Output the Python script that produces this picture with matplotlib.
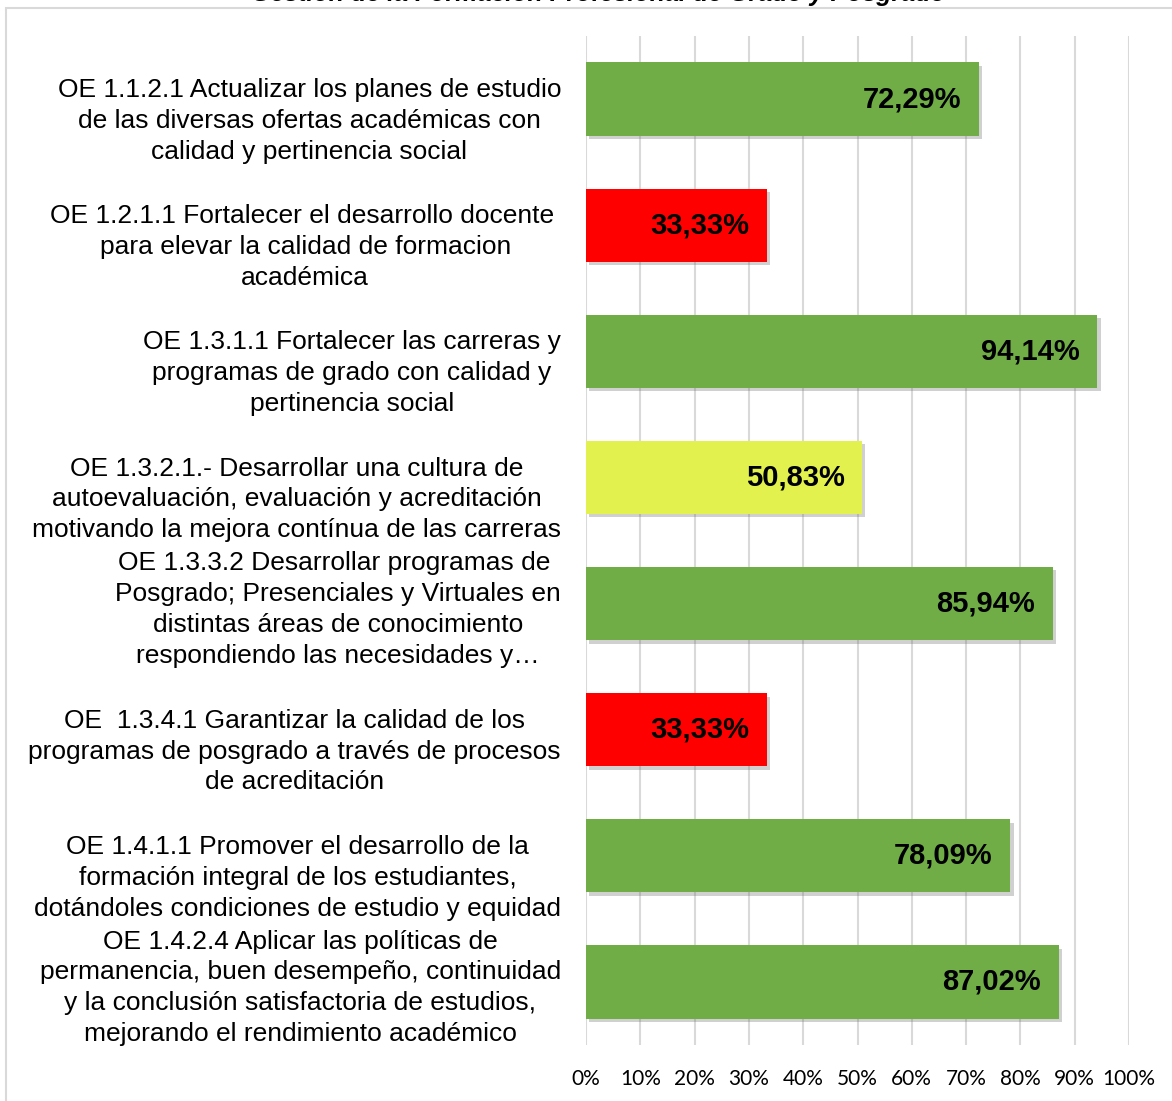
import matplotlib
matplotlib.use("Agg")
import matplotlib.pyplot as plt
import matplotlib.patheffects as pe
import matplotlib.transforms as mtransforms
from matplotlib.patches import Rectangle
from matplotlib.ticker import FuncFormatter

# Data (top to bottom)
labels = [
    "OE 1.1.2.1 Actualizar los planes de estudio\nde las diversas ofertas académicas con\ncalidad y pertinencia social",
    "OE 1.2.1.1 Fortalecer el desarrollo docente \npara elevar la calidad de formacion\nacadémica",
    "OE 1.3.1.1 Fortalecer las carreras y\nprogramas de grado con calidad y\npertinencia social",
    "OE 1.3.2.1.- Desarrollar una cultura de\nautoevaluación, evaluación y acreditación\nmotivando la mejora contínua de las carreras",
    "OE 1.3.3.2 Desarrollar programas de \nPosgrado; Presenciales y Virtuales en\ndistintas áreas de conocimiento\nrespondiendo las necesidades y…",
    "OE  1.3.4.1 Garantizar la calidad de los\nprogramas de posgrado a través de procesos\nde acreditación",
    "OE 1.4.1.1 Promover el desarrollo de la\nformación integral de los estudiantes,\ndotándoles condiciones de estudio y equidad",
    "OE 1.4.2.4 Aplicar las políticas de\npermanencia, buen desempeño, continuidad\ny la conclusión satisfactoria de estudios,\nmejorando el rendimiento académico",
]
values = [72.29, 33.33, 94.14, 50.83, 85.94, 33.33, 78.09, 87.02]
colors = ["#70AD47", "#FF0000", "#70AD47", "#E2F14D", "#70AD47", "#FF0000", "#70AD47", "#70AD47"]
title = "Gestión de la Formación Profesional de Grado y Posgrado"

fig = plt.figure(figsize=(11.72, 11.01), dpi=100)
ax = fig.add_axes([586 / 1172, 1 - 1045 / 1101, 543 / 1172, (1045 - 36) / 1101])

# outer chart border
fig.patches.append(Rectangle((6 / 1172, -0.05), 1.1, 1 - 8 / 1101 + 0.05,
                             transform=fig.transFigure, fill=False,
                             edgecolor="#D9D9D9", linewidth=1.5))

# title, cut off by the top edge as in the source
fig.text(598 / 1172, 1 - 1 / 1101, title, ha="center", va="baseline",
         fontsize=18, fontweight="bold", fontstyle="italic",
         family="Liberation Sans")

y = list(range(len(values)))
shadow = [pe.SimplePatchShadow(offset=(2.5, -2.5), shadow_rgbFace="#666666", alpha=0.3), pe.Normal()]
bars = ax.barh(y, values, height=0.58, color=colors, zorder=3)
for b in bars:
    b.set_path_effects(shadow)

for yi, v in zip(y, values):
    ax.text(v - 3.2, yi, f"{v:.2f}%".replace(".", ","), ha="right", va="center",
            fontsize=21, fontweight="bold", family="Liberation Sans", zorder=4)

ax.set_xlim(0, 100)
ax.set_ylim(len(values) - 0.5, -0.5)
ax.set_xticks(range(0, 101, 10))
ax.xaxis.set_major_formatter(FuncFormatter(lambda x, p: f"{int(x)}%"))
ax.grid(axis="x", color="#D9D9D9", linewidth=1.5, zorder=0)
for s in ax.spines.values():
    s.set_visible(False)
ax.tick_params(axis="x", length=0, pad=17, labelsize=15)
for t in ax.get_xticklabels():
    t.set_family("Lato")

ax.set_yticks(y)
ax.set_yticklabels(labels, fontsize=19, family="Liberation Sans")
ax.tick_params(axis="y", length=0, pad=18)
for t, lab in zip(ax.get_yticklabels(), labels):
    t.set_horizontalalignment("right")
    t.set_multialignment("center")
    t.set_linespacing(1.36)
    if lab.count("\n") == 2:
        t.set_transform(t.get_transform() + mtransforms.ScaledTranslation(0, -16 / 100, fig.dpi_scale_trans))

fig.savefig("out.png", dpi=100, facecolor="white")
